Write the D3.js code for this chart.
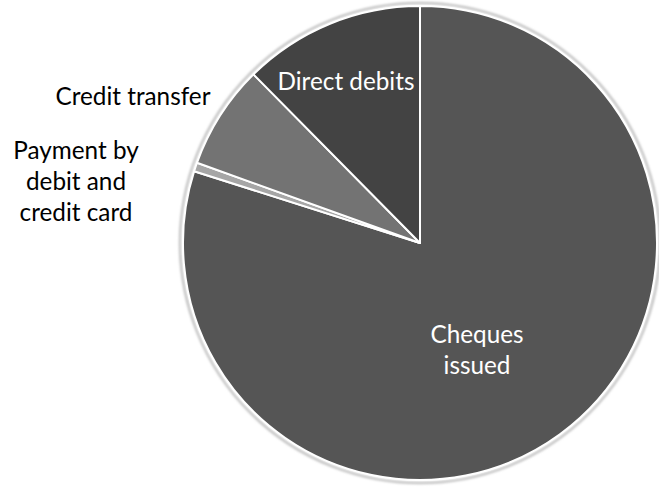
<!DOCTYPE html>
<html>
<head>
<meta charset="utf-8">
<script src="https://cdn.jsdelivr.net/npm/d3@7"></script>
<style>
  html, body { margin: 0; padding: 0; background: #fff; }
  svg { display: block; }
</style>
</head>
<body>
<svg id="chart" width="659" height="491"></svg>
<script>
// ---- data ----
const categories = ["Cheques issued", "Payment by debit and credit card", "Credit transfer", "Direct debits"];
const values = [79.9, 0.6, 7.1, 12.4];
const labelLines = [["Cheques", "issued"], ["Payment by", "debit and", "credit card"], ["Credit transfer"], ["Direct debits"]];

// ---- styling / layout ----
const colors = ["#555555", "#a6a6a6", "#737373", "#434343"];
const textColors = ["#ffffff", "#000000", "#000000", "#ffffff"];
const labelPos = [[477, 343], [76, 159], [133, 105], [346, 90]]; // baseline of first line, centered
const lineGap = 31;
const fontFamily = "Lato, 'Open Sans', sans-serif";

const svg = d3.select("#chart");
const cx = 420, cy = 243, r = 237;

const defs = svg.append("defs");
defs.append("filter").attr("id", "soft").attr("x", "-10%").attr("y", "-10%").attr("width", "120%").attr("height", "120%")
  .append("feGaussianBlur").attr("stdDeviation", 1.2);

const pie = d3.pie().sort(null).value(d => d.value).startAngle(0).endAngle(2 * Math.PI);
const data = categories.map((c, i) => ({ name: c, value: values[i], i }));
const arcs = pie(data);
const arc = d3.arc().innerRadius(0).outerRadius(r);

const g = svg.append("g").attr("transform", `translate(${cx},${cy})`);

g.append("circle").attr("r", r + 3).attr("fill", "none").attr("stroke", "#c4c4c4")
  .attr("stroke-width", 2.5).attr("filter", "url(#soft)");

g.selectAll("path.slice").data(arcs).enter().append("path")
  .attr("class", "slice")
  .attr("d", arc)
  .attr("fill", d => colors[d.data.i])
  .attr("stroke", "#ffffff")
  .attr("stroke-width", 2)
  .attr("stroke-linejoin", "round");

// fit font size so "Direct debits" spans ~136px
const probe = svg.append("text").attr("font-family", fontFamily).attr("font-size", 20).text("Direct debits");
const w20 = probe.node().getComputedTextLength();
probe.remove();
const fontSize = 20 * 137 / w20;

labelLines.forEach((lines, i) => {
  const t = svg.append("text")
    .attr("font-family", fontFamily)
    .attr("font-size", fontSize)
    .attr("fill", textColors[i])
    .attr("text-anchor", "middle");
  lines.forEach((ln, k) => {
    t.append("tspan").attr("x", labelPos[i][0]).attr("y", labelPos[i][1] + k * lineGap).text(ln);
  });
});
</script>
</body>
</html>
